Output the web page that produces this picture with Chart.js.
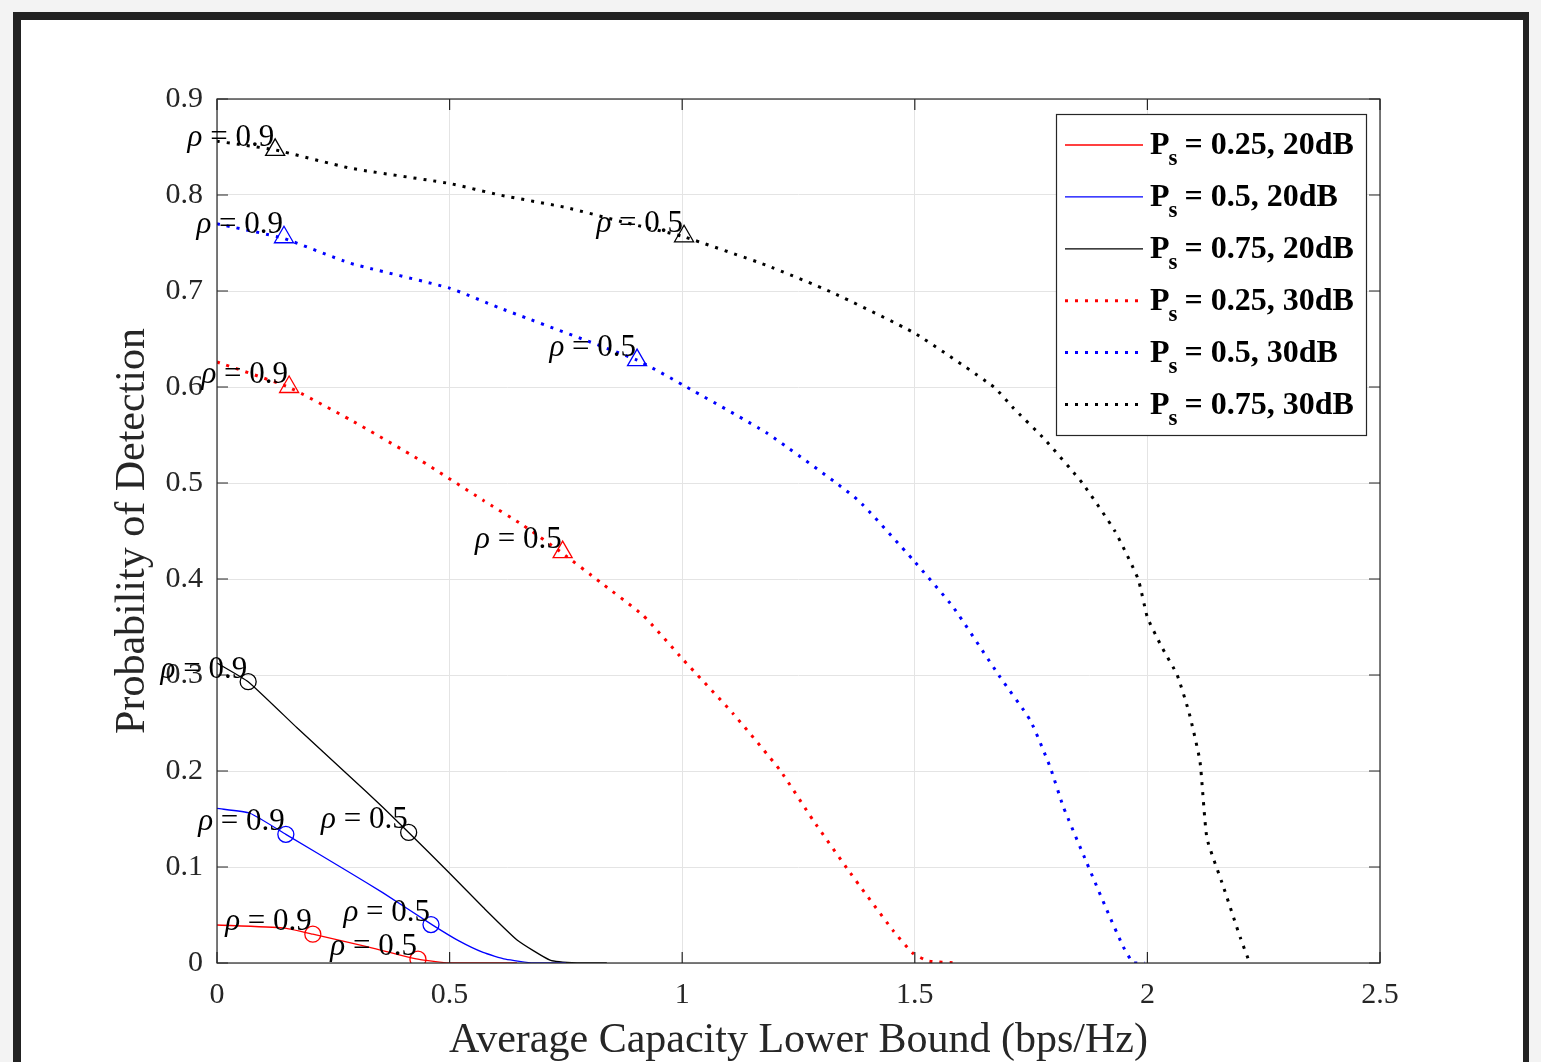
<!DOCTYPE html>
<html><head><meta charset="utf-8">
<script src="https://cdn.jsdelivr.net/npm/chart.js@4/dist/chart.umd.min.js"></script>
<style>
html,body{margin:0;padding:0;width:1541px;height:1062px;overflow:hidden;background:#f3f3f3;}
#frame{position:absolute;left:13px;top:12px;width:1516px;height:1200px;box-sizing:border-box;border:8px solid #222;border-right-width:6px;background:#fff;}
#wrap{position:absolute;left:0;top:0;width:1541px;height:1062px;}
</style></head><body>
<div id="frame"></div>
<div id="wrap"><canvas id="c"></canvas></div>
<script>
// ---------- data ----------
const legendParts = ['= 0.25, 20dB', '= 0.5, 20dB', '= 0.75, 20dB', '= 0.25, 30dB', '= 0.5, 30dB', '= 0.75, 30dB'];

// Ps = 0.25, 20 dB (solid red)
const cap_p25_20 = [0, 0.142, 0.206, 0.322, 0.432, 0.5, 0.645];
const pd_p25_20  = [0.0396, 0.0365, 0.030, 0.017, 0.004, 0, 0];
// Ps = 0.5, 20 dB (solid blue)
const cap_p50_20 = [0, 0.071, 0.148, 0.286, 0.357, 0.462, 0.52, 0.572, 0.62, 0.68, 0.75];
const pd_p50_20  = [0.161, 0.156, 0.134, 0.094, 0.073, 0.040, 0.023, 0.011, 0.004, 0, 0];
// Ps = 0.75, 20 dB (solid black)
const cap_p75_20 = [0, 0.067, 0.172, 0.286, 0.357, 0.412, 0.499, 0.572, 0.645, 0.716, 0.774, 0.838];
const pd_p75_20  = [0.3125, 0.293, 0.245, 0.194, 0.162, 0.136, 0.094, 0.058, 0.024, 0.003, 0, 0];
// Ps = 0.25, 30 dB (dotted red)
const cap_p25_30 = [0, 0.153, 0.286, 0.436, 0.572, 0.658, 0.742, 0.823, 0.916, 1.002, 1.109, 1.21, 1.281, 1.361, 1.453, 1.496, 1.53, 1.592];
const pd_p25_30  = [0.626, 0.600, 0.566, 0.524, 0.482, 0.456, 0.427, 0.397, 0.362, 0.316, 0.260, 0.201, 0.149, 0.094, 0.034, 0.010, 0.002, 0];
// Ps = 0.5, 30 dB (dotted blue)
const cap_p50_30 = [0, 0.142, 0.286, 0.5, 0.604, 0.903, 1.002, 1.182, 1.376, 1.496, 1.582, 1.683, 1.748, 1.791, 1.819, 1.87, 1.913, 1.948, 1.97, 1.995];
const pd_p50_30  = [0.770, 0.755, 0.729, 0.703, 0.683, 0.628, 0.602, 0.552, 0.483, 0.420, 0.371, 0.298, 0.253, 0.204, 0.163, 0.104, 0.055, 0.017, 0, 0];
// Ps = 0.75, 30 dB (dotted black)
const cap_p75_30 = [0, 0.125, 0.286, 0.5, 0.608, 0.75, 0.88, 1.0, 1.18, 1.32, 1.5, 1.67, 1.71, 1.78, 1.86, 1.93, 1.98, 2.0, 2.03, 2.064, 2.09, 2.113, 2.128, 2.163, 2.2, 2.22];
const pd_p75_30  = [0.856, 0.847, 0.828, 0.812, 0.800, 0.787, 0.771, 0.757, 0.727, 0.699, 0.656, 0.600, 0.579, 0.545, 0.500, 0.450, 0.400, 0.360, 0.330, 0.300, 0.260, 0.210, 0.130, 0.080, 0.026, 0];

// markers (rho = 0.9, rho = 0.5)
const rhoLabels = ['0.9', '0.5'];
const mkx_p25_20 = [0.206, 0.432], mky_p25_20 = [0.030, 0.004];
const mkx_p50_20 = [0.148, 0.460], mky_p50_20 = [0.134, 0.040];
const mkx_p75_20 = [0.067, 0.412], mky_p75_20 = [0.293, 0.136];
const mkx_p25_30 = [0.155, 0.743], mky_p25_30 = [0.600, 0.428];
const mkx_p50_30 = [0.144, 0.903], mky_p50_30 = [0.756, 0.628];
const mkx_p75_30 = [0.125, 1.004], mky_p75_30 = [0.847, 0.757];

const xTickValues = [0, 0.5, 1, 1.5, 2, 2.5];
const yTickValues = [0, 0.1, 0.2, 0.3, 0.4, 0.5, 0.6, 0.7, 0.8, 0.9];

// ---------- build ----------
const zip = (xs, ys) => xs.map((x, i) => ({x, y: ys[i]}));
const RED = '#ff0000', BLUE = '#0000ff', BLACK = '#000000';
const SERIF = '"Liberation Serif", "Times New Roman", serif';

function curve(label, xs, ys, color, dotted) {
  return {
    label, data: zip(xs, ys), borderColor: color, backgroundColor: color,
    borderWidth: dotted ? 3 : 1.3, borderDash: dotted ? [3, 7] : [],
    pointRadius: 0, tension: 0.15, isCurve: true, order: 2
  };
}
function markers(xs, ys, color, style) {
  return {
    label: 'markers', data: zip(xs, ys), showLine: false, borderColor: color,
    backgroundColor: 'rgba(0,0,0,0)', pointStyle: style, pointRadius: style === 'triangle' ? 11 : 8,
    pointBorderWidth: 1.3, isMarker: true, order: 1
  };
}

const datasets = [
  curve('Ps ' + legendParts[0], cap_p25_20, pd_p25_20, RED, false),
  curve('Ps ' + legendParts[1], cap_p50_20, pd_p50_20, BLUE, false),
  curve('Ps ' + legendParts[2], cap_p75_20, pd_p75_20, BLACK, false),
  curve('Ps ' + legendParts[3], cap_p25_30, pd_p25_30, RED, true),
  curve('Ps ' + legendParts[4], cap_p50_30, pd_p50_30, BLUE, true),
  curve('Ps ' + legendParts[5], cap_p75_30, pd_p75_30, BLACK, true),
  markers(mkx_p25_20, mky_p25_20, RED, 'circle'),
  markers(mkx_p50_20, mky_p50_20, BLUE, 'circle'),
  markers(mkx_p75_20, mky_p75_20, BLACK, 'circle'),
  markers(mkx_p25_30, mky_p25_30, RED, 'triangle'),
  markers(mkx_p50_30, mky_p50_30, BLUE, 'triangle'),
  markers(mkx_p75_30, mky_p75_30, BLACK, 'triangle')
];

const AXC = '#262626';
const LBL = 31;

const boxPlugin = {
  id: 'matlabBox',
  afterDatasetsDraw(chart) {
    const {ctx, chartArea: a, scales: {x, y}} = chart;
    ctx.save();
    ctx.strokeStyle = AXC; ctx.lineWidth = 1.2; ctx.setLineDash([]);
    ctx.strokeRect(a.left, a.top, a.right - a.left, a.bottom - a.top);
    ctx.beginPath();
    xTickValues.forEach(v => {
      const px = x.getPixelForValue(v);
      ctx.moveTo(px, a.bottom); ctx.lineTo(px, a.bottom - 11);
      ctx.moveTo(px, a.top); ctx.lineTo(px, a.top + 11);
    });
    yTickValues.forEach(v => {
      const py = y.getPixelForValue(v);
      ctx.moveTo(a.left, py); ctx.lineTo(a.left + 11, py);
      ctx.moveTo(a.right, py); ctx.lineTo(a.right - 11, py);
    });
    ctx.stroke();
    // rho labels
    ctx.fillStyle = '#000';
    ctx.textBaseline = 'alphabetic';
    chart.data.datasets.forEach((ds, di) => {
      if (!ds.isMarker) return;
      const meta = chart.getDatasetMeta(di);
      meta.data.forEach((pt, i) => {
        const rest = ' = ' + rhoLabels[i];
        ctx.font = 'italic ' + LBL + 'px ' + SERIF;
        const rw = ctx.measureText('\u03c1').width;
        ctx.font = LBL + 'px ' + SERIF;
        const tw = ctx.measureText(rest).width;
        const right = pt.x - 1, base = pt.y - 4;
        const left = right - rw - tw;
        ctx.textAlign = 'left';
        ctx.font = 'italic ' + LBL + 'px ' + SERIF;
        ctx.fillText('\u03c1', left, base);
        ctx.font = LBL + 'px ' + SERIF;
        ctx.fillText(rest, left + rw, base);
      });
    });
    ctx.restore();
  }
};

const legendPlugin = {
  id: 'matlabLegend',
  afterDraw(chart) {
    const ctx = chart.ctx;
    ctx.save();
    const L = 1056, T = 114, W = 310, H = 321;
    ctx.fillStyle = '#fff'; ctx.fillRect(L, T, W, H);
    ctx.strokeStyle = AXC; ctx.lineWidth = 1.2; ctx.strokeRect(L + 0.5, T + 0.5, W, H);
    const curves = chart.data.datasets.filter(d => d.isCurve);
    curves.forEach((ds, i) => {
      const yy = T + 31 + i * 51.9;
      ctx.beginPath(); ctx.setLineDash(ds.borderDash); ctx.strokeStyle = ds.borderColor; ctx.lineWidth = ds.borderWidth;
      ctx.moveTo(1065, yy); ctx.lineTo(1143, yy); ctx.stroke(); ctx.setLineDash([]);
      ctx.fillStyle = '#000'; ctx.textAlign = 'left'; ctx.textBaseline = 'alphabetic';
      ctx.font = 'bold 32px ' + SERIF;
      ctx.fillText('P', 1150, yy + 9);
      const pw = ctx.measureText('P').width;
      ctx.font = 'bold 23px ' + SERIF;
      ctx.fillText('s', 1150 + pw - 1, yy + 20);
      const sw = ctx.measureText('s').width;
      ctx.font = 'bold 32px ' + SERIF;
      ctx.fillText(' ' + legendParts[i], 1150 + pw + sw - 2, yy + 9);
    });
    ctx.restore();
  }
};

const fmt = v => String(+Number(v).toFixed(2));

new Chart(document.getElementById('c'), {
  type: 'line',
  data: {datasets},
  options: {
    responsive: true, maintainAspectRatio: false, animation: false,
    layout: {padding: {left: 0, top: 99, right: 161, bottom: 0}},
    plugins: {legend: {display: false}, tooltip: {enabled: false}},
    scales: {
      x: {
        type: 'linear', min: 0, max: 2.5,
        afterBuildTicks: s => { s.ticks = xTickValues.map(v => ({value: v})); },
        afterFit: s => { s.height = 99; },
        ticks: {callback: fmt, font: {family: SERIF, size: 30}, color: AXC, padding: 14, maxRotation: 0, autoSkip: false},
        grid: {color: '#e4e4e4', lineWidth: 1, drawTicks: false},
        border: {display: false},
        title: {display: true, text: 'Average Capacity Lower Bound (bps/Hz)', font: {family: SERIF, size: 42}, color: AXC, padding: {top: 0, bottom: -4}}
      },
      y: {
        type: 'linear', min: 0, max: 0.9,
        afterBuildTicks: s => { s.ticks = yTickValues.map(v => ({value: v})); },
        afterFit: s => { s.width = 217; },
        ticks: {callback: fmt, font: {family: SERIF, size: 30}, color: AXC, padding: 14, autoSkip: false},
        grid: {color: '#e4e4e4', lineWidth: 1, drawTicks: false},
        border: {display: false},
        title: {display: true, text: 'Probability of Detection', font: {family: SERIF, size: 42}, color: AXC, padding: {top: 108, bottom: 0}}
      }
    }
  },
  plugins: [boxPlugin, legendPlugin]
});
</script>
</body></html>
